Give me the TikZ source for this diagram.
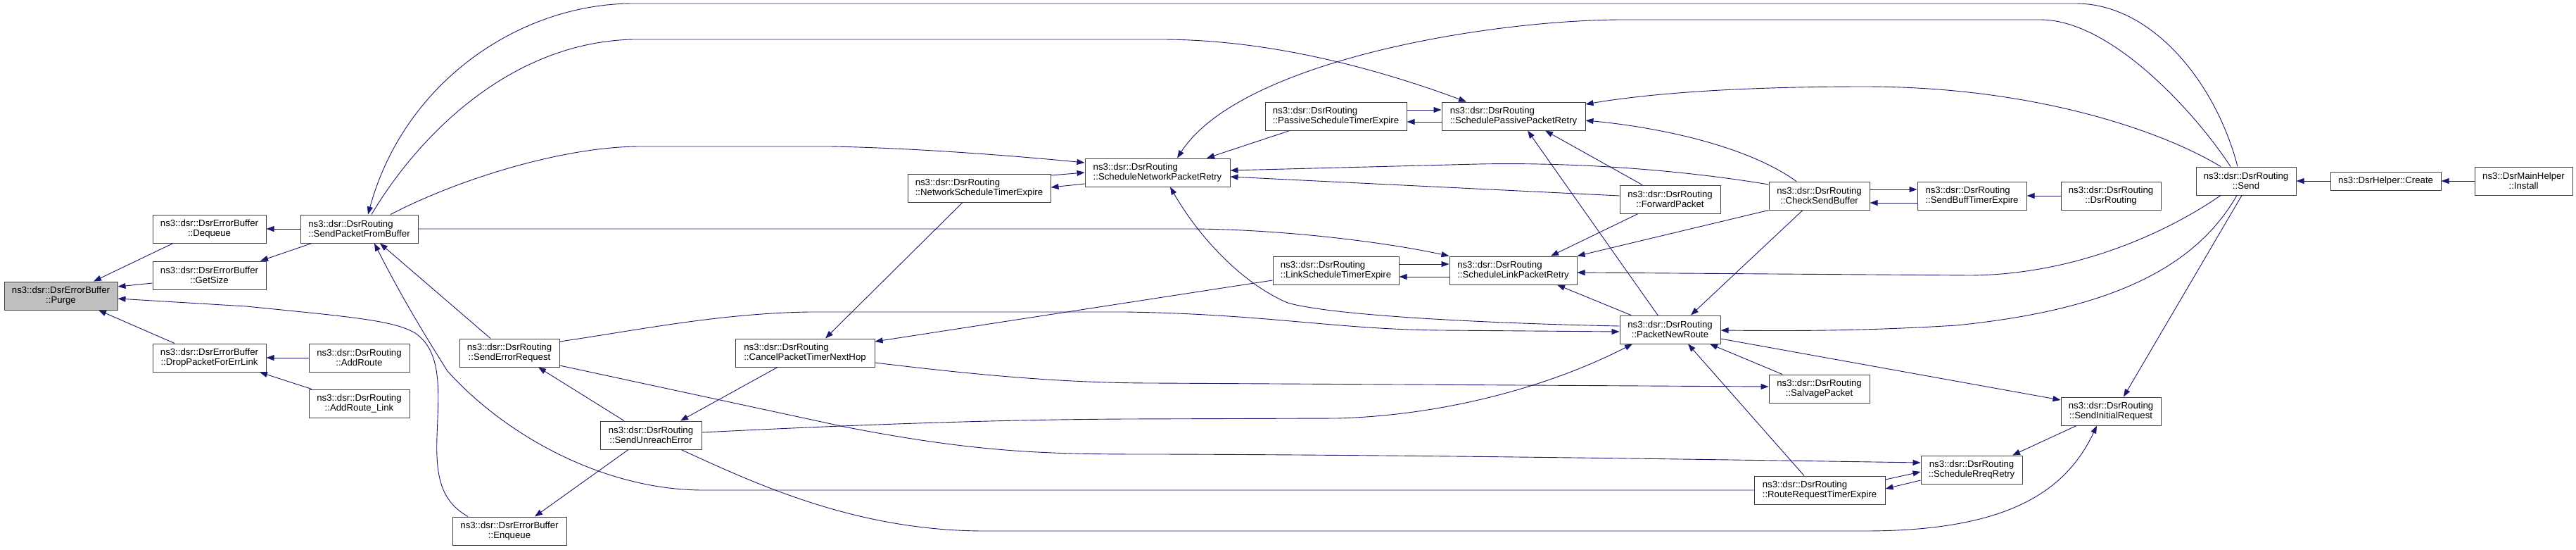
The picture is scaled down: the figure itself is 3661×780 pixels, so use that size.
\documentclass[tikz,border=0pt]{standalone}
\usepackage{fontspec}
\setmainfont{Liberation Sans}
\usetikzlibrary{arrows.meta}
\definecolor{mb}{HTML}{191970}
\definecolor{nodegray}{HTML}{BFBFBF}
\definecolor{bordr}{HTML}{404040}
\begin{document}
\begin{tikzpicture}[x=1pt,y=-1pt,
 fn/.style={draw=bordr,line width=1pt,fill=white,inner sep=0pt,minimum height=40pt,font=\fontsize{13.2}{14.5}\selectfont,align=center},
 fnl/.style={fn,align=left},
 cl/.style={draw=mb,line width=0.9pt,-{Triangle[length=11pt,width=8pt]}}]
\useasboundingbox (0,0) rectangle (3661,780);

\node[fn,fill=nodegray,minimum width=161pt] (purge) at (86.5,420) {ns3::dsr::DsrErrorBuffer\\::Purge};
\node[fn,minimum width=161pt] (deq) at (297.5,325) {ns3::dsr::DsrErrorBuffer\\::Dequeue};
\node[fn,minimum width=161pt] (gets) at (297.5,391) {ns3::dsr::DsrErrorBuffer\\::GetSize};
\node[fn,minimum width=161pt] (drop) at (297.5,508) {ns3::dsr::DsrErrorBuffer\\::DropPacketForErrLink};
\node[fnl,minimum width=167pt] (spfb) at (510.5,325) {ns3::dsr::DsrRouting\\::SendPacketFromBuffer};
\node[fn,minimum width=143pt] (addr) at (510.5,508) {ns3::dsr::DsrRouting\\::AddRoute};
\node[fn,minimum width=143pt] (addrl) at (510.5,573) {ns3::dsr::DsrRouting\\::AddRoute\_Link};
\node[fn,minimum width=142pt] (ser) at (724,501) {ns3::dsr::DsrRouting\\::SendErrorRequest};
\node[fn,minimum width=144pt] (sue) at (925,618) {ns3::dsr::DsrRouting\\::SendUnreachError};
\node[fn,minimum width=162pt] (enq) at (724,754) {ns3::dsr::DsrErrorBuffer\\::Enqueue};
\node[fnl,minimum width=203pt] (nste) at (1391.5,267) {ns3::dsr::DsrRouting\\::NetworkScheduleTimerExpire};
\node[fnl,minimum width=198pt] (cptnh) at (1144,501) {ns3::dsr::DsrRouting\\::CancelPacketTimerNextHop};
\node[fnl,minimum width=206pt] (snpr) at (1645,245) {ns3::dsr::DsrRouting\\::ScheduleNetworkPacketRetry};
\node[fnl,minimum width=201pt] (pste) at (1898.5,165) {ns3::dsr::DsrRouting\\::PassiveScheduleTimerExpire};
\node[fnl,minimum width=179pt] (lste) at (1898.5,384) {ns3::dsr::DsrRouting\\::LinkScheduleTimerExpire};
\node[fnl,minimum width=204pt] (sppr) at (2151,165) {ns3::dsr::DsrRouting\\::SchedulePassivePacketRetry};
\node[fnl,minimum width=181pt] (slpr) at (2150.5,384) {ns3::dsr::DsrRouting\\::ScheduleLinkPacketRetry};
\node[fn,minimum width=143pt] (fp) at (2373.5,283) {ns3::dsr::DsrRouting\\::ForwardPacket};
\node[fn,minimum width=143pt] (pnr) at (2373.5,468) {ns3::dsr::DsrRouting\\::PacketNewRoute};
\node[fn,minimum width=143pt] (csb) at (2585.5,278) {ns3::dsr::DsrRouting\\::CheckSendBuffer};
\node[fn,minimum width=143pt] (sp) at (2585.5,552) {ns3::dsr::DsrRouting\\::SalvagePacket};
\node[fnl,minimum width=186pt] (rrte) at (2586,696) {ns3::dsr::DsrRouting\\::RouteRequestTimerExpire};
\node[fnl,minimum width=155pt] (sbte) at (2802.5,278) {ns3::dsr::DsrRouting\\::SendBuffTimerExpire};
\node[fn,minimum width=144pt] (srr) at (2802,667) {ns3::dsr::DsrRouting\\::ScheduleRreqRetry};
\node[fn,minimum width=142pt] (dsrr) at (3000,278) {ns3::dsr::DsrRouting\\::DsrRouting};
\node[fn,minimum width=142pt] (sir) at (3000,584) {ns3::dsr::DsrRouting\\::SendInitialRequest};
\node[fn,minimum width=142pt] (send) at (3192,257) {ns3::dsr::DsrRouting\\::Send};
\node[fn,minimum width=157pt,minimum height=26pt] (create) at (3390.5,257) {ns3::DsrHelper::Create};
\node[fn,minimum width=139pt] (install) at (3586.5,257) {ns3::DsrMainHelper\\::Install};

% into Purge and ErrorBuffer
\draw[cl] (deq.south -| 246,0) -- (purge.north -| 133,0);
\draw[cl] (gets.west |- 0,402) -- (purge.east |- 0,407);
\draw[cl] (drop.north -| 248,0) -- (purge.south -| 140,0);
\draw[cl] (enq.north -| 665,0) .. controls (628,712) and (619,680) .. (621,620) .. controls (623,560) and (630,500) .. (590,473) .. controls (560,455) and (500,450) .. (350,435) -- (purge.east |- 0,424);
\draw[cl] (spfb.west) -- (deq.east);
\draw[cl] (spfb.south -| 443,0) -- (gets.north -| 370,0);
\draw[cl] (addr.west) -- (drop.east);
\draw[cl] (addrl.north -| 443,0) -- (drop.south -| 369,0);

% SendPacketFromBuffer
\draw[cl] (send.north -| 3180,0) .. controls (3150,120) and (3060,5) .. (2950,5) -- (900,5) .. controls (740,5) and (575,115) .. (spfb.north -| 523,0);
\draw[cl] (send.north -| 3170,0) .. controls (3120,160) and (3000,28) .. (2900,28) -- (2300,28) .. controls (2100,30) and (1760,90) .. (snpr.north -| 1673,0);
\draw[cl] (spfb.north -| 528,0) .. controls (590,200) and (720,60) .. (900,56) -- (1650,56) .. controls (1800,56) and (1950,95) .. (sppr.north -| 2084,0);
\draw[cl] (spfb.north -| 555,0) .. controls (650,255) and (800,208) .. (910,208) -- (1180,208) .. controls (1300,210) and (1450,222) .. (snpr.west |- 0,231);
\draw[cl] (spfb.east) -- (1690,325) .. controls (1800,325) and (1950,340) .. (slpr.north west);
\draw[cl] (send.north -| 3156,0) .. controls (3080,190) and (2900,123) .. (2650,123) .. controls (2450,123) and (2330,135) .. (sppr.east |- 0,148);
\draw[cl] (ser.north -| 697,0) -- (spfb.south -| 540,0);
\draw[cl] (rrte.west) -- (1000,696) .. controls (860,696) and (720,620) .. (636,527) .. controls (600,470) and (570,420) .. (spfb.south -| 532,0);

% schedule / timer pairs
\draw[cl] (pste.east |- 0,156) -- (sppr.west |- 0,156);
\draw[cl] (sppr.west |- 0,173) -- (pste.east |- 0,173);
\draw[cl] (pste.south -| 1833,0) -- (snpr.north -| 1715,0);
\draw[cl] (nste.east |- 0,249) -- (snpr.west |- 0,245);
\draw[cl] (snpr.west |- 0,261) -- (nste.east |- 0,266);
\draw[cl] (nste.south -| 1368,0) -- (cptnh.north -| 1173,0);
\draw[cl] (cptnh.south -| 1105,0) -- (sue.north -| 967,0);
\draw[cl] (lste.west |- 0,398) -- (cptnh.east |- 0,485);
\draw[cl] (cptnh.east |- 0,515) .. controls (1400,534) and (1520,544) .. (1640,544) -- (sp.west |- 0,549);
\draw[cl] (lste.east |- 0,375) -- (slpr.west |- 0,375);
\draw[cl] (slpr.west |- 0,393) -- (lste.east |- 0,393);

% SendErrorRequest / SendUnreachError
\draw[cl] (ser.east |- 0,485) .. controls (900,470) and (1020,445) .. (1150,443) -- (1600,443) .. controls (1800,446) and (1900,468) .. (2050,469) -- (pnr.west |- 0,471);
\draw[cl] (pnr.west |- 0,463) .. controls (2150,460) and (1900,450) .. (1830,430) .. controls (1760,400) and (1700,330) .. (snpr.south -| 1663,0);
\draw[cl] (sue.north -| 887,0) -- (ser.south -| 765,0);
\draw[cl] (sue.south -| 893,0) -- (enq.north -| 760,0);
\draw[cl] (sue.east |- 0,614) .. controls (1200,604) and (1400,596) .. (1600,595) -- (1900,594) .. controls (2050,590) and (2200,550) .. (pnr.south -| 2320,0);
\draw[cl] (ser.east |- 0,519) -- (1200,606) .. controls (1400,645) and (1500,645) .. (1650,645) .. controls (2000,646) and (2400,652) .. (srr.west |- 0,657);
\draw[cl] (sue.south -| 968,0) .. controls (1080,690) and (1220,754) .. (1400,754) -- (2650,754) .. controls (2850,754) and (2935,700) .. (sir.south -| 2980,0);

% PacketNewRoute
\draw[cl] (pnr.east |- 0,481) -- (sir.west |- 0,568);
\draw[cl] (pnr.north -| 2318,0) -- (slpr.south -| 2213,0);
\draw[cl] (pnr.north -| 2356,0) -- (sppr.south -| 2171,0);
\draw[cl] (csb.south -| 2562,0) -- (pnr.north -| 2403,0);
\draw[cl] (sp.north -| 2533,0) -- (pnr.south -| 2430,0);
\draw[cl] (rrte.north -| 2564,0) -- (pnr.south -| 2399,0);

% ForwardPacket / CheckSendBuffer
\draw[cl] (fp.west |- 0,278) -- (snpr.east |- 0,251);
\draw[cl] (csb.west |- 0,262) .. controls (2400,243) and (2250,230) .. (2100,233) -- (snpr.east |- 0,242);
\draw[cl] (csb.north -| 2553,0) .. controls (2480,205) and (2350,180) .. (sppr.east |- 0,171);
\draw[cl] (csb.south west) -- (slpr.north east);
\draw[cl] (fp.north -| 2334,0) -- (sppr.south -| 2196,0);
\draw[cl] (fp.south -| 2328,0) -- (slpr.north -| 2204,0);
\draw[cl] (csb.east |- 0,269) -- (sbte.west |- 0,269);
\draw[cl] (sbte.west |- 0,288) -- (csb.east |- 0,288);
\draw[cl] (dsrr.west) -- (sbte.east);

% Send
\draw[cl] (send.south -| 3156,0) .. controls (3080,330) and (2950,390) .. (2800,391) -- (slpr.east |- 0,387);
\draw[cl] (send.south -| 3179,0) .. controls (3120,380) and (3000,440) .. (2780,462) .. controls (2650,470) and (2550,470) .. (pnr.east |- 0,469);
\draw[cl] (send.south -| 3186,0) -- (sir.north -| 3018,0);

% Rreq
\draw[cl] (sir.south -| 2951,0) -- (srr.north -| 2860,0);
\draw[cl] (rrte.east |- 0,681) -- (srr.west |- 0,670);
\draw[cl] (srr.west |- 0,682) -- (rrte.east |- 0,694);

% helpers
\draw[cl] (create.west) -- (send.east);
\draw[cl] (install.west) -- (create.east);
\end{tikzpicture}
\end{document}
